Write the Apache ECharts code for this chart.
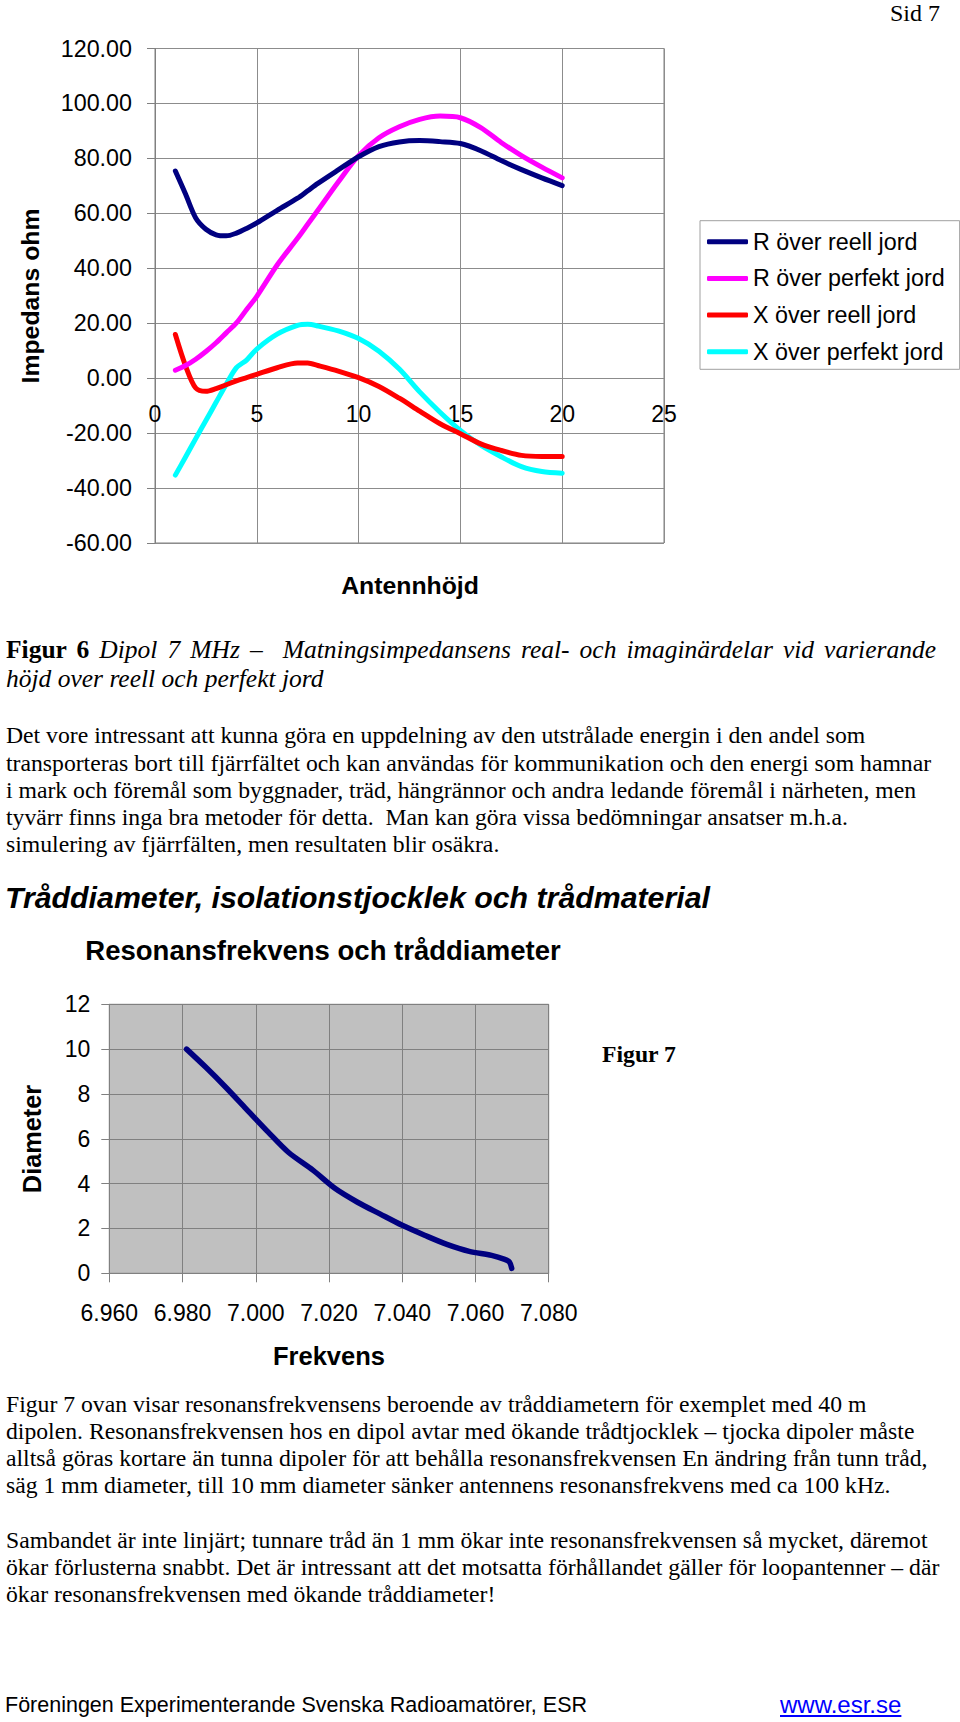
<!DOCTYPE html>
<html>
<head>
<meta charset="utf-8">
<script src="https://cdn.jsdelivr.net/npm/echarts@6/dist/echarts.min.js"></script>
<style>
html,body{margin:0;padding:0;background:#fff;}
#page{position:relative;width:960px;height:1722px;overflow:hidden;background:#fff;}
#chart{position:absolute;left:0;top:0;width:960px;height:1722px;}
.t{position:absolute;white-space:nowrap;color:#000;}
.serif{font-family:"Liberation Serif","Times New Roman",serif;font-size:23.7px;line-height:28px;}
.cap{font-size:25.5px;}
.sans{font-family:"Liberation Sans",Arial,sans-serif;}
</style>
</head>
<body>
<div id="page">
<div id="chart"></div>

<div class="t serif" style="right:20px;top:1px;font-size:24px;line-height:24px;">Sid 7</div>

<div class="t serif cap" id="cap1" data-fitw="930" style="left:6px;top:636px;"><b>Figur 6</b> <i>Dipol 7 MHz –&nbsp; Matningsimpedansens real- och imaginärdelar vid varierande</i></div>
<div class="t serif cap" style="left:6px;top:665px;"><i>höjd over reell och perfekt jord</i></div>

<div class="t serif" style="left:6px;top:721px;">Det vore intressant att kunna göra en uppdelning av den utstrålade energin i den andel som</div>
<div class="t serif" style="left:6px;top:748.5px;">transporteras bort till fjärrfältet och kan användas för kommunikation och den energi som hamnar</div>
<div class="t serif" style="left:6px;top:775.5px;">i mark och föremål som byggnader, träd, hängrännor och andra ledande föremål i närheten, men</div>
<div class="t serif" style="left:6px;top:802.5px;">tyvärr finns inga bra metoder för detta.&nbsp; Man kan göra vissa bedömningar ansatser m.h.a.</div>
<div class="t serif" style="left:6px;top:829.5px;">simulering av fjärrfälten, men resultaten blir osäkra.</div>

<div class="t sans" style="left:5px;top:880px;font-size:30.3px;line-height:36px;font-weight:bold;font-style:italic;">Tråddiameter, isolationstjocklek och trådmaterial</div>
<div class="t sans" style="left:323px;top:936px;font-size:27.5px;line-height:30px;font-weight:bold;transform:translateX(-50%);">Resonansfrekvens och tråddiameter</div>
<div class="t serif" style="left:602px;top:1040px;font-weight:bold;">Figur 7</div>

<div class="t serif" style="left:6px;top:1389.5px;">Figur 7 ovan visar resonansfrekvensens beroende av tråddiametern för exemplet med 40 m</div>
<div class="t serif" style="left:6px;top:1416.5px;">dipolen. Resonansfrekvensen hos en dipol avtar med ökande trådtjocklek – tjocka dipoler måste</div>
<div class="t serif" style="left:6px;top:1443.5px;">alltså göras kortare än tunna dipoler för att behålla resonansfrekvensen En ändring från tunn tråd,</div>
<div class="t serif" style="left:6px;top:1470.5px;">säg 1 mm diameter, till 10 mm diameter sänker antennens resonansfrekvens med ca 100 kHz.</div>

<div class="t serif" style="left:6px;top:1525.5px;">Sambandet är inte linjärt; tunnare tråd än 1 mm ökar inte resonansfrekvensen så mycket, däremot</div>
<div class="t serif" style="left:6px;top:1552.5px;">ökar förlusterna snabbt. Det är intressant att det motsatta förhållandet gäller för loopantenner – där</div>
<div class="t serif" style="left:6px;top:1579.5px;">ökar resonansfrekvensen med ökande tråddiameter!</div>

<div class="t sans" style="left:5px;top:1691px;font-size:21.5px;line-height:28px;">Föreningen Experimenterande Svenska Radioamatörer, ESR</div>
<div class="t sans" style="left:780px;top:1691px;font-size:24px;line-height:28px;color:#0000ff;text-decoration:underline;">www.esr.se</div>
</div>

<script>
// ---- Figur 6 data: antenna height vs impedance ----
const heights  = [1, 1.5, 2, 2.5, 3, 3.5, 4, 4.5, 5, 6, 7, 7.5, 8, 9, 10, 11, 12, 13, 14, 15, 16, 17, 18, 19, 20];
const rReell   = [75.4, 67.0, 58.3, 54.2, 52.2, 51.8, 52.8, 54.5, 56.5, 61.1, 65.5, 68.2, 70.9, 75.8, 80.6, 84.3, 86.0, 86.5, 86.1, 85.4, 82.8, 79.2, 75.9, 72.9, 70.1];
const rPerfekt = [2.9, 4.6, 6.9, 9.7, 12.9, 16.5, 20.1, 25.0, 29.8, 41.2, 50.9, 56.0, 61.1, 71.4, 81.0, 87.5, 91.5, 94.2, 95.4, 94.8, 91.2, 85.8, 81.0, 76.8, 72.9];
const xReell   = [15.9, 4.5, -3.6, -4.8, -3.8, -2.4, -1.0, 0.2, 1.4, 3.8, 5.5, 5.5, 4.6, 2.6, 0.2, -3.0, -7.3, -12.0, -16.6, -20.2, -23.9, -26.3, -28.1, -28.5, -28.5];
const xPerfekt = [-35.3, -28.7, -22.0, -15.4, -8.8, -2.2, 3.8, 6.6, 10.6, 16.0, 19.2, 19.6, 19.0, 17.2, 14.4, 9.8, 3.3, -5.0, -12.4, -19.0, -24.4, -28.6, -32.2, -34.0, -34.6];
const seriesNames  = ['R över reell jord', 'R över perfekt jord', 'X över reell jord', 'X över perfekt jord'];
const seriesColors = ['#000080', '#ff00ff', '#ff0000', '#00ffff'];
const impTicks = [-60, -40, -20, 0, 20, 40, 60, 80, 100, 120];
const heightTicks = [0, 5, 10, 15, 20, 25];

// ---- Figur 7 data: resonance frequency vs wire diameter ----
const freq     = [6.9811, 6.9863, 6.9918, 6.9973, 7.0034, 7.0089, 7.0156, 7.0217, 7.0278, 7.0339, 7.0400, 7.0461, 7.0522, 7.0583, 7.0644, 7.0680, 7.0693, 7.0699];
const diameter = [10.0, 9.2, 8.3, 7.35, 6.3, 5.4, 4.6, 3.78, 3.17, 2.65, 2.14, 1.70, 1.29, 0.98, 0.80, 0.62, 0.50, 0.22];
const freqTicks = [6.96, 6.98, 7.00, 7.02, 7.04, 7.06, 7.08];
const diaTicks  = [0, 2, 4, 6, 8, 10, 12];

// stretch the justified caption line's word spacing to its measured width
document.querySelectorAll('[data-fitw]').forEach(el => {
  const target = parseFloat(el.dataset.fitw);
  const natural = el.getBoundingClientRect().width;
  const spaces = (el.textContent.match(/[ \u00a0]/g) || []).length;
  if (spaces > 0 && natural < target) el.style.wordSpacing = ((target - natural) / spaces) + 'px';
});

const SANS = '"Liberation Sans", Arial, sans-serif';
const pairs = (xs, ys) => xs.map((x, i) => [x, ys[i]]);
const topSeries = [rReell, rPerfekt, xReell, xPerfekt];

const chart = echarts.init(document.getElementById('chart'), null, {renderer: 'svg', width: 960, height: 1722});

const option = {
  animation: false,
  backgroundColor: 'transparent',
  textStyle: {fontFamily: SANS},
  grid: [
    {left: 155, top: 48.5, width: 509, height: 494.5, show: true, borderColor: '#808080', borderWidth: 1, backgroundColor: '#fff', containLabel: false, outerBoundsMode: 'none'},
    {left: 109.3, top: 1004.3, width: 439.4, height: 269, show: true, borderColor: '#808080', borderWidth: 1, backgroundColor: '#c0c0c0', containLabel: false, outerBoundsMode: 'none'}
  ],
  xAxis: [
    {
      type: 'value', gridIndex: 0, position: 'bottom',
      min: heightTicks[0], max: heightTicks[heightTicks.length - 1], interval: 5,
      axisLine: {show: false, onZero: false},
      axisTick: {show: false},
      // labels sit just below the zero line of the impedance axis
      axisLabel: {fontSize: 23, color: '#000', fontFamily: SANS, margin: -141},
      splitLine: {show: true, lineStyle: {color: '#8c8c8c', width: 1}}
    },
    {
      type: 'value', gridIndex: 1,
      min: freqTicks[0], max: freqTicks[freqTicks.length - 1], interval: 0.02,
      axisLine: {show: true, onZero: false, lineStyle: {color: '#808080', width: 1}},
      axisTick: {show: true, inside: false, length: 9, lineStyle: {color: '#808080'}},
      axisLabel: {fontSize: 23, color: '#000', fontFamily: SANS, margin: 28, formatter: v => v.toFixed(3)},
      splitLine: {show: true, lineStyle: {color: '#808080', width: 1}}
    }
  ],
  yAxis: [
    {
      type: 'value', gridIndex: 0,
      min: impTicks[0], max: impTicks[impTicks.length - 1], interval: 20,
      axisLine: {show: true, onZero: false, lineStyle: {color: '#808080', width: 1}},
      axisTick: {show: true, inside: false, length: 8, lineStyle: {color: '#808080'}},
      axisLabel: {fontSize: 23.3, color: '#000', fontFamily: SANS, margin: 23, formatter: v => v.toFixed(2)},
      splitLine: {show: true, lineStyle: {color: '#8c8c8c', width: 1}}
    },
    {
      type: 'value', gridIndex: 1,
      min: diaTicks[0], max: diaTicks[diaTicks.length - 1], interval: 2,
      axisLine: {show: true, onZero: false, lineStyle: {color: '#808080', width: 1}},
      axisTick: {show: true, inside: false, length: 8, lineStyle: {color: '#808080'}},
      axisLabel: {fontSize: 23, color: '#000', fontFamily: SANS, margin: 19},
      splitLine: {show: true, lineStyle: {color: '#808080', width: 1}}
    }
  ],
  legend: {
    show: true, orient: 'vertical', left: 700, top: 220.7,
    data: seriesNames,
    icon: 'roundRect', itemWidth: 41, itemHeight: 5, itemGap: 13.7,
    padding: [9.5, 15, 6, 7],
    backgroundColor: '#fff', borderColor: '#a0a0a0', borderWidth: 1, borderRadius: 0,
    textStyle: {fontSize: 23.3, lineHeight: 23, color: '#000', fontFamily: SANS},
    selectedMode: false
  },
  series: topSeries.map((vals, i) => ({
    name: seriesNames[i], type: 'line', xAxisIndex: 0, yAxisIndex: 0,
    data: pairs(heights, vals), showSymbol: false, symbol: 'none', smooth: 0.3,
    lineStyle: {color: seriesColors[i], width: 5, cap: 'round', join: 'round'},
    itemStyle: {color: seriesColors[i]}, z: 3 + (3 - i)
  })).concat([{
    name: 'Diameter', type: 'line', xAxisIndex: 1, yAxisIndex: 1,
    data: pairs(freq, diameter), showSymbol: false, symbol: 'none', smooth: 0.3,
    lineStyle: {color: '#000080', width: 5.5, cap: 'round', join: 'round'},
    itemStyle: {color: '#000080'}
  }]),
  graphic: [
    {type: 'text', x: 30, y: 296, rotation: Math.PI / 2, style: {text: 'Impedans ohm', fill: '#000', font: 'bold 24.8px ' + SANS, align: 'center', verticalAlign: 'middle'}},
    {type: 'text', x: 410, y: 585, style: {text: 'Antennhöjd', fill: '#000', font: 'bold 24.8px ' + SANS, align: 'center', verticalAlign: 'middle'}},
    {type: 'text', x: 32, y: 1139, rotation: Math.PI / 2, style: {text: 'Diameter', fill: '#000', font: 'bold 25.3px ' + SANS, align: 'center', verticalAlign: 'middle'}},
    {type: 'text', x: 329, y: 1356, style: {text: 'Frekvens', fill: '#000', font: 'bold 25.5px ' + SANS, align: 'center', verticalAlign: 'middle'}}
  ]
};
chart.setOption(option);
</script>
</body>
</html>
